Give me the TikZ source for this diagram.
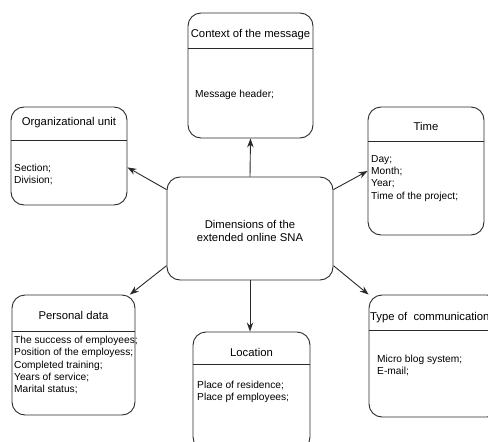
\documentclass[tikz,border=0pt]{standalone}
\usepackage{fontspec}
\setmainfont{Liberation Sans}
\usetikzlibrary{arrows.meta}
\definecolor{boxline}{HTML}{2A2A2A}
\begin{document}
\begin{tikzpicture}[x=1pt,y=-1pt,
  box/.style={draw=boxline,line width=0.9pt,rounded corners=13pt,inner sep=0pt},
  head/.style={font=\fontsize{11.3}{13.5}\selectfont,inner sep=0pt},
  body/.style={font=\fontsize{10.2}{12.3}\selectfont,align=left,anchor=north west,inner sep=0pt},
  rule/.style={draw=boxline,line width=0.8pt},
  link/.style={draw=boxline,line width=0.9pt,-{Stealth[length=9pt,width=6.5pt]}}]
\clip (0,0) rectangle (488,442);
% centre
\node[box,minimum width=166,minimum height=103] (sna) at (250,228.5) {};
\node[head,align=center] (snat) at (250,231) {Dimensions of the\\extended online SNA};
% context of the message
\node[box,minimum width=125,minimum height=125] (ctx) at (250.5,75.5) {};
\node[head] (ctxt) at (250.5,35) {Context of the message};
\draw[rule] (ctx.west |- 0,48) -- (ctx.east |- 0,48);
\node[body] (ctxb) at (195,90) {Message header;};
% organizational unit
\node[box,minimum width=116,minimum height=98] (org) at (69,156) {};
\node[head] (orgt) at (69,123) {Organizational unit};
\draw[rule] (org.west |- 0,140) -- (org.east |- 0,140);
\node[body] (orgb) at (14,164) {Section;\\Division;};
% time
\node[box,minimum width=116,minimum height=128] (time) at (426,171) {};
\node[head] (timet) at (426,126) {Time};
\draw[rule] (time.west |- 0,141) -- (time.east |- 0,141);
\node[body] (timeb) at (371,155) {Day;\\Month;\\Year;\\Time of the project;};
% personal data
\node[box,minimum width=123,minimum height=120] (pers) at (73.5,355) {};
\node[head] (perst) at (73.5,315) {Personal data};
\draw[rule] (pers.west |- 0,331) -- (pers.east |- 0,331);
\node[body] (persb) at (14,336) {The success of employees;\\Position of the employess;\\Completed training;\\Years of service;\\Marital status;};
% location
\node[box,minimum width=117,minimum height=118] (loc) at (251.5,391) {};
\node[head] (loct) at (251.5,352) {Location};
\draw[rule] (loc.west |- 0,364) -- (loc.east |- 0,364);
\node[body] (locb) at (197,381) {Place of residence;\\Place pf employees;};
% type of communication
\node[box,minimum width=131,minimum height=122] (type) at (434.5,356) {};
\node[head,anchor=west] (typet) at (370,318) {Type of\ \ communication};
\draw[rule] (type.west |- 0,330) -- (type.east |- 0,330);
\node[body] (typeb) at (377,355) {Micro blog system;\\E-mail;};
% links
\draw[link] (sna.north) -- (ctx.south);
\draw[link] (sna.155) -- (org.-11);
\draw[link] (sna.25) -- (time.180);
\draw[link] (sna.204) -- (pers.47);
\draw[link] (sna.south) -- (sna.south |- loc.north);
\draw[link] (sna.-24) -- (type.137);
\end{tikzpicture}
\end{document}
